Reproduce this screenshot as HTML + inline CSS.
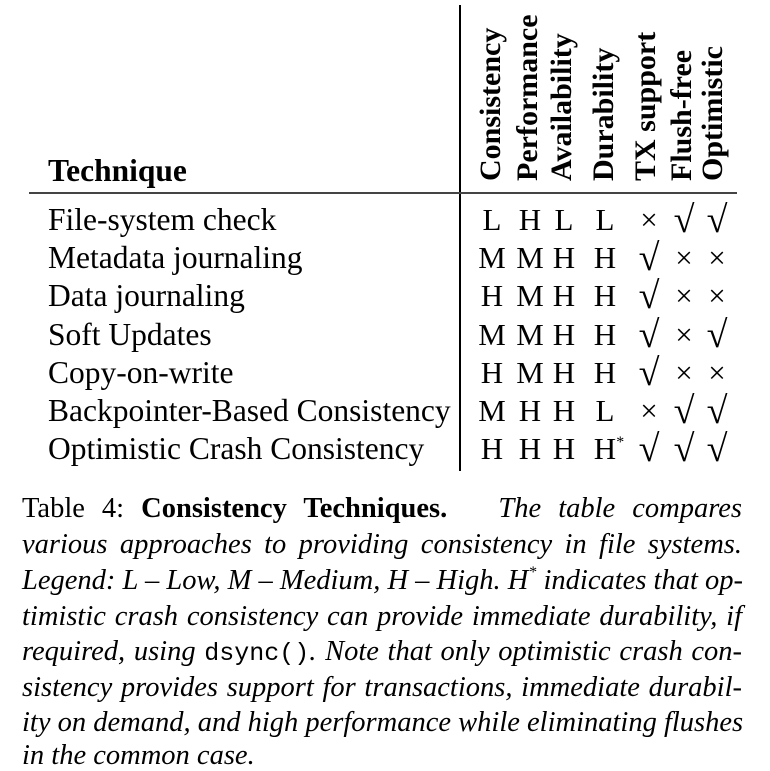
<!DOCTYPE html>
<html><head><meta charset="utf-8"><style>
body{margin:0;width:770px;height:771px;background:#fff;position:relative;overflow:hidden;font-family:"Liberation Serif",serif;color:#000}
.a{position:absolute;white-space:nowrap}
.t{font-size:31.5px;line-height:30px}
.c{position:absolute;width:40px;margin-left:-20px;text-align:center;font-size:31px;line-height:30px}
.s{font-size:38px}
.x{font-size:31px}
.h{position:absolute;font-weight:bold;font-size:30px;line-height:30px;transform-origin:0 0;transform:rotate(-90deg);white-space:nowrap}
.cap{position:absolute;left:22px;width:720px;font-size:28.5px;line-height:30px;text-align:justify;text-align-last:justify;white-space:nowrap;font-style:italic}
.cap.l{text-align-last:left}
.st{font-size:16px;vertical-align:12px;line-height:0}
</style></head><body>
<div class="a" style="left:459px;top:5px;width:2px;height:466px;background:#000"></div>
<div class="a" style="left:29px;top:192px;width:708px;height:2px;background:#444"></div>
<div class="a t" style="left:48px;top:156px;font-weight:bold">Technique</div>
<div class="h" style="left:476px;top:181px">Consistency</div>
<div class="h" style="left:513px;top:181px">Performance</div>
<div class="h" style="left:547px;top:181px">Availability</div>
<div class="h" style="left:589px;top:181px">Durability</div>
<div class="h" style="left:631px;top:181px">TX support</div>
<div class="h" style="left:667px;top:181px">Flush-free</div>
<div class="h" style="left:698px;top:181px">Optimistic</div>
<div id="rows"></div>
<script>
const names=["File-system check","Metadata journaling","Data journaling","Soft Updates","Copy-on-write","Backpointer-Based Consistency","Optimistic Crash Consistency"];
const vals=[["L","H","L","L","x","v","v"],["M","M","H","H","v","x","x"],["H","M","H","H","v","x","x"],["M","M","H","H","v","x","v"],["H","M","H","H","v","x","x"],["M","H","H","L","x","v","v"],["H","H","H","H*","v","v","v"]];
const cx=[492,530,564,605,649,684,717];
const R=document.getElementById('rows');
names.forEach((n,i)=>{
  const top=205+i*38.2;
  const d=document.createElement('div');
  d.className='a t';d.style.left='48px';d.style.top=top+'px';d.textContent=n;
  
  
  R.appendChild(d);
  vals[i].forEach((v,j)=>{
    const c=document.createElement('div');
    c.className='c';c.style.left=cx[j]+'px';c.style.top=top+'px';
    if(v==='v'){c.innerHTML='<span class="s">√</span>';}
    else if(v==='x'){c.innerHTML='<span class="x">×</span>';}
    else if(v==='H*'){c.innerHTML='H<span class="st">*</span>';c.style.marginLeft='-16px';}
    else c.textContent=v;
    
    
    R.appendChild(c);
  });
});
</script>
<div class="cap" style="top:494px;font-style:normal">Table 4: <b>Consistency Techniques.</b>&nbsp;&nbsp; <i>The table compares</i></div>
<div class="cap" style="top:530px">various approaches to providing consistency in file systems.</div>
<div class="cap" style="top:566px">Legend: L – Low, M – Medium, H – High. H<span class="st">*</span> indicates that op-</div>
<div class="cap" style="top:602px">timistic crash consistency can provide immediate durability, if</div>
<div class="cap" style="top:637px">required, using <span style="font-family:'Liberation Mono',monospace;font-style:normal;font-size:25px">dsync()</span>. Note that only optimistic crash con-</div>
<div class="cap" style="top:673px">sistency provides support for transactions, immediate durabil-</div>
<div class="cap" style="top:708px">ity on demand, and high performance while eliminating flushes</div>
<div class="cap l" style="top:741px">in the common case.</div>
</body></html>
